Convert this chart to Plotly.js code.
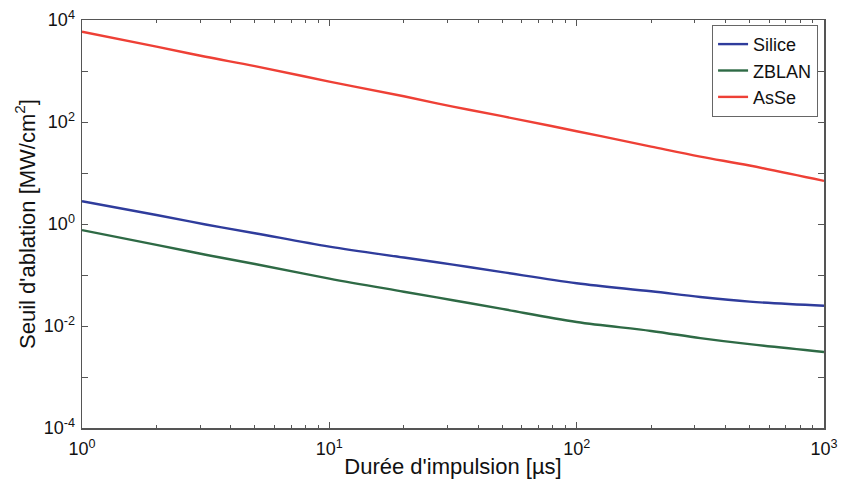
<!DOCTYPE html>
<html><head><meta charset="utf-8">
<script src="https://cdn.plot.ly/plotly-3.0.1.min.js"></script>
<style>html,body{margin:0;padding:0;background:#fff}#c{width:842px;height:485px}</style>
</head><body><div id="c"></div>
<script>
const durations = [1, 2, 3.16, 5, 10, 20, 31.6, 50, 100, 200, 316, 500, 1000];
const silice = [2.8, 1.5, 0.98, 0.66, 0.36, 0.22, 0.16, 0.114, 0.069, 0.048, 0.037, 0.030, 0.025];
const zblan  = [0.76, 0.39, 0.25, 0.164, 0.085, 0.047, 0.032, 0.0216, 0.012, 0.0080, 0.0058, 0.0044, 0.0031];
const asse   = [5900, 3000, 1900, 1250, 620, 320, 200, 130, 66, 33, 21, 14, 7];
const xTickVals = [1, 10, 100, 1000];
const xTickText = ['10<sup>0</sup>', '10<sup>1</sup>', '10<sup>2</sup>', '10<sup>3</sup>'];
const yTickVals = [1e-4, 1e-3, 1e-2, 1e-1, 1, 10, 100, 1000, 10000];
const yTickText = ['10<sup>-4</sup>', '', '10<sup>-2</sup>', '', '10<sup>0</sup>', '', '10<sup>2</sup>', '', '10<sup>4</sup>'];

const font = {family: 'Liberation Sans, Arial, sans-serif', color: '#111'};
const ls = {width: 2.4, shape: 'spline', smoothing: 1};
const traces = [
  {x: durations, y: silice, name: 'Silice', mode: 'lines', line: Object.assign({color: '#2f3c9c'}, ls)},
  {x: durations, y: zblan, name: 'ZBLAN', mode: 'lines', line: Object.assign({color: '#2e6a45'}, ls)},
  {x: durations, y: asse, name: 'AsSe', mode: 'lines', line: Object.assign({color: '#ee4036'}, ls)}
];
const axisCommon = {
  type: 'log', showgrid: false, zeroline: false, showline: true, linecolor: '#555', linewidth: 1.5,
  mirror: 'ticks', ticks: 'inside', ticklen: 6, tickcolor: '#555',
  tickfont: Object.assign({size: 18}, font)
};
const layout = {
  width: 842, height: 485,
  margin: {l: 82, r: 18, t: 20, b: 57},
  paper_bgcolor: '#fff', plot_bgcolor: '#fff',
  showlegend: true,
  legend: {x: 0.992, y: 0.988, xanchor: 'right', yanchor: 'top', bgcolor: '#fff',
    bordercolor: '#666', borderwidth: 1, font: Object.assign({size: 18}, font), itemwidth: 30, tracegroupgap: 0},
  xaxis: Object.assign({}, axisCommon, {
    range: [0, 3], tickmode: 'array', tickvals: xTickVals, ticktext: xTickText, ticklabelstandoff: 4,
    minor: {ticks: 'inside', ticklen: 3, tickcolor: '#555', dtick: 'D1', showgrid: false},
    title: {text: "Durée d'impulsion [µs]", font: Object.assign({size: 22}, font), standoff: 0}
  }),
  yaxis: Object.assign({}, axisCommon, {
    range: [-4, 4], tickmode: 'array', tickvals: yTickVals, ticktext: yTickText, ticklabelstandoff: 2,
    title: {text: "Seuil d'ablation [MW/cm<sup>2</sup>]", font: Object.assign({size: 22}, font), standoff: 2}
  })
};
Plotly.newPlot('c', traces, layout, {displayModeBar: false, staticPlot: true});
</script>
</body></html>
